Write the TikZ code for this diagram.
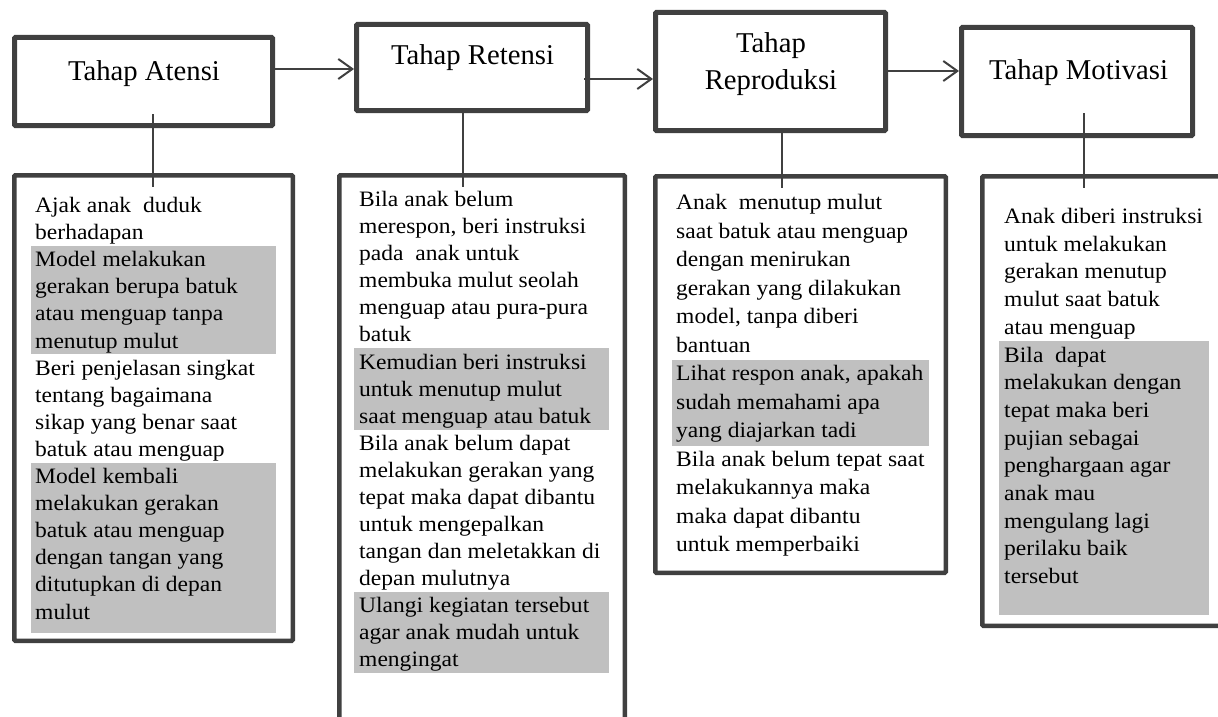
\documentclass[tikz,border=0pt]{standalone}
\usepackage{fontspec}
\usetikzlibrary{arrows.meta}
\newfontfamily\headfont{Liberation Serif}
\newfontfamily\bodyfont[FakeStretch=1.07]{Liberation Serif}
\definecolor{dgrey}{HTML}{404040}
\definecolor{greyfill}{HTML}{C0C0C0}
\newlength\ppitch
\newlength\pdepth
\newcommand\setpitch[1]{\setlength\ppitch{#1}\setlength\pdepth{\dimexpr#1-20.5pt\relax}\fontsize{22pt}{#1}\selectfont\lineskiplimit=-\maxdimen}
\newcommand\Ls{\rule[-\pdepth]{0pt}{\ppitch}}
\newcommand\Hs{\rule[-11pt]{0pt}{37pt}}
\begin{document}
\begin{tikzpicture}[x=1pt,y=-1pt,
  headbox/.style={draw=dgrey,line width=5pt,rounded corners=1pt,anchor=north west,inner sep=0pt},
  lowbox/.style={draw=dgrey,line width=4.5pt,rounded corners=1pt,anchor=north west,inner sep=0pt},
  titletxt/.style={font={\headfont\fontsize{28.7pt}{37pt}\selectfont},inner sep=0pt,text=black},
  bodytxt/.style={anchor=north west,inner sep=0pt,align=left,text=black},
  greyblock/.style={fill=greyfill,draw=none},
  arr/.style={draw=dgrey,line width=2pt,-{Straight Barb[length=14pt,width=20pt]}},
  conn/.style={draw=dgrey,line width=1.3pt}]
\useasboundingbox (0,0) rectangle (1218,717);
\clip (0,0) rectangle (1218,717);
\fill[white] (0,0) rectangle (1218,717);

% grey shading behind text
\path[greyblock] (31,246) rectangle (276,354.4);
\path[greyblock] (31,462.8) rectangle (276,633);
\path[greyblock] (354,348.3) rectangle (609,429.5);
\path[greyblock] (354,591.8) rectangle (609,672.9);
\path[greyblock] (672,360) rectangle (929,445.5);
\path[greyblock] (999,341.3) rectangle (1209,615);

% header boxes
\node[headbox,minimum width=258pt,minimum height=88pt] (h1) at (12,35) {};
\node[headbox,minimum width=231pt,minimum height=86pt] (h2) at (354,22) {};
\node[headbox,minimum width=230pt,minimum height=118pt] (h3) at (653,10) {};
\node[headbox,minimum width=231pt,minimum height=108pt] (h4) at (959,25) {};

\node[titletxt,anchor=base] (t1) at (144,81) {Tahap Atensi};
\node[titletxt,anchor=base] (t2) at (472.5,65) {Tahap Retensi};
\node[titletxt,anchor=north,align=center] (t3) at (771,26) {\Hs Tahap\\\Hs Reproduksi};
\node[titletxt,anchor=base] (t4) at (1078.5,80) {Tahap Motivasi};

% lower boxes
\node[lowbox,minimum width=278.5pt,minimum height=465.5pt] (l1) at (12,173) {};
\node[lowbox,minimum width=285.5pt,minimum height=567.5pt] (l2) at (337,173) {};
\node[lowbox,minimum width=290.5pt,minimum height=396.5pt] (l3) at (653,174) {};
\node[lowbox,minimum width=255.5pt,minimum height=449.5pt] (l4) at (980,174) {};

% texts
\node[bodytxt,font={\bodyfont\setpitch{27.1pt}}] (x1) at (35,191.8) {%
\Ls Ajak anak\ \ duduk\\\Ls berhadapan\\\Ls Model melakukan\\\Ls gerakan berupa batuk\\%
\Ls atau menguap tanpa\\\Ls menutup mulut\\\Ls Beri penjelasan singkat\\\Ls tentang bagaimana\\%
\Ls sikap yang benar saat\\\Ls batuk atau menguap\\\Ls Model kembali\\\Ls melakukan gerakan\\%
\Ls batuk atau menguap\\\Ls dengan tangan yang\\\Ls ditutupkan di depan\\\Ls mulut};

\node[bodytxt,font={\bodyfont\setpitch{27.05pt}}] (x2) at (359,186) {%
\Ls Bila anak belum\\\Ls merespon, beri instruksi\\\Ls pada\ \ anak untuk\\\Ls membuka mulut seolah\\%
\Ls menguap atau pura-pura\\\Ls batuk\\\Ls Kemudian beri instruksi\\\Ls untuk menutup mulut\\%
\Ls saat menguap atau batuk\\\Ls Bila anak belum dapat\\\Ls melakukan gerakan yang\\%
\Ls tepat maka dapat dibantu\\\Ls untuk mengepalkan\\\Ls tangan dan meletakkan di\\%
\Ls depan mulutnya\\\Ls Ulangi kegiatan tersebut\\\Ls agar anak mudah untuk\\\Ls mengingat};

\node[bodytxt,font={\bodyfont\setpitch{28.5pt}}] (x3) at (676,189) {%
\Ls Anak\ \ menutup mulut\\\Ls saat batuk atau menguap\\\Ls dengan menirukan\\%
\Ls gerakan yang dilakukan\\\Ls model, tanpa diberi\\\Ls bantuan\\\Ls Lihat respon anak, apakah\\%
\Ls sudah memahami apa\\\Ls yang diajarkan tadi\\\Ls Bila anak belum tepat saat\\%
\Ls melakukannya maka\\\Ls maka dapat dibantu\\\Ls untuk memperbaiki};

\node[bodytxt,font={\bodyfont\setpitch{27.7pt}}] (x4) at (1004,202.8) {%
\Ls Anak diberi instruksi\\\Ls untuk melakukan\\\Ls gerakan menutup\\\Ls mulut saat batuk\\%
\Ls atau menguap\\\Ls Bila\ \ dapat\\\Ls melakukan dengan\\\Ls tepat maka beri\\%
\Ls pujian sebagai\\\Ls penghargaan agar\\\Ls anak mau\\\Ls mengulang lagi\\%
\Ls perilaku baik\\\Ls tersebut};

% arrows between stages
\coordinate (a1y) at (0,69);
\coordinate (a2s) at (584,79);
\coordinate (a3y) at (0,71);
\draw[arr] (h1.east |- a1y) -- (h2.west |- a1y);
\draw[arr] (a2s) -- (h3.west |- a2s);
\draw[arr] (h3.east |- a3y) -- (h4.west |- a3y);

% vertical connectors
\draw[conn] ([xshift=9.5pt,yshift=14pt]h1.south) -- ([xshift=-0.5pt,yshift=-14pt]l1.north);
\draw[conn] ([xshift=-9pt]h2.south) -- ([xshift=-19pt,yshift=-14pt]l2.north);
\draw[conn] ([xshift=11.5pt]h3.south) -- ([xshift=-18.5pt,yshift=-14pt]l3.north);
\draw[conn] ([xshift=7pt,yshift=25pt]h4.south) -- ([xshift=-26pt,yshift=-14pt]l4.north);
\end{tikzpicture}
\end{document}
